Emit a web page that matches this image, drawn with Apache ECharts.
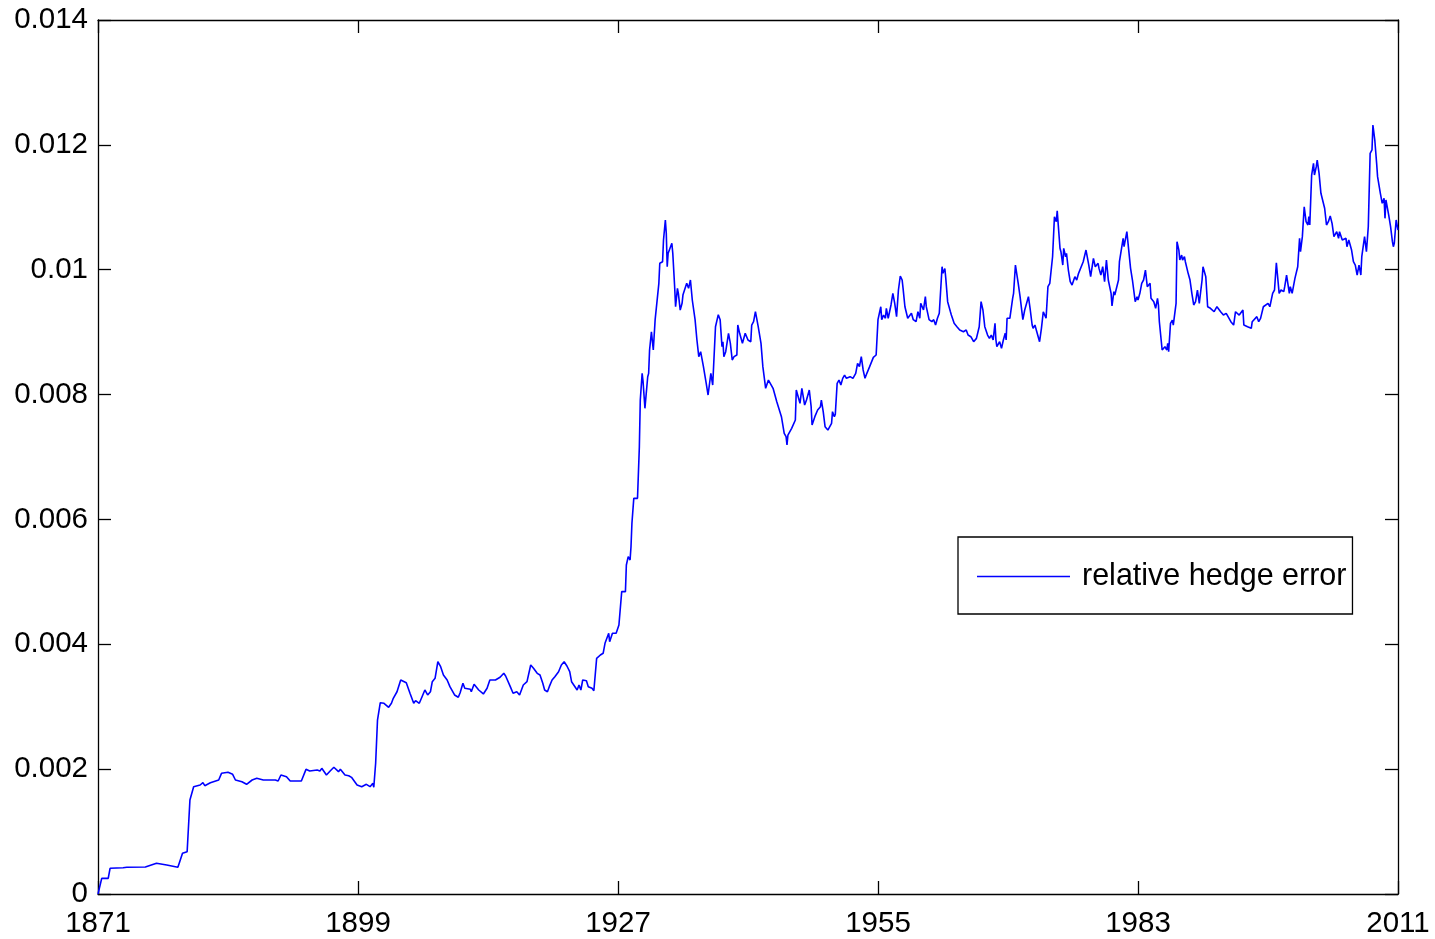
<!DOCTYPE html>
<html>
<head>
<meta charset="utf-8">
<title>relative hedge error</title>
<script src="https://cdn.jsdelivr.net/npm/echarts@6/dist/echarts.min.js"></script>
<style>
  html, body { margin: 0; padding: 0; background: #ffffff; }
  #chart { width: 1435px; height: 939px; }
</style>
</head>
<body>
<div id="chart"></div>
<script>
// Time axis (years) and the relative hedge error at each sample.
const years = [
  1871.0, 1871.4, 1872.1, 1872.3, 1873.7, 1873.8, 1874.1, 1876.1, 1877.3, 1878.4,
  1879.6, 1879.8, 1880.1, 1880.6, 1880.7, 1880.9, 1881.1, 1881.3, 1882.0, 1882.3,
  1882.5, 1883.1, 1884.0, 1884.3, 1885.0, 1885.5, 1885.8, 1886.5, 1887.0, 1887.6,
  1888.1, 1888.8, 1890.1, 1890.4, 1890.7, 1891.3, 1891.7, 1892.9, 1893.4, 1893.8,
  1894.6, 1894.9, 1895.1, 1895.6, 1896.0, 1896.4, 1896.9, 1897.1, 1897.6, 1898.0,
  1898.3, 1898.9, 1899.4, 1899.9, 1900.3, 1900.6, 1900.7, 1900.9, 1901.1, 1901.4,
  1901.8, 1902.3, 1902.6, 1902.8, 1903.0, 1903.2, 1903.6, 1904.2, 1904.6, 1905.0,
  1905.2, 1905.6, 1905.9, 1906.2, 1906.5, 1906.8, 1907.0, 1907.3, 1907.6, 1907.9,
  1908.2, 1908.6, 1908.9, 1909.4, 1909.8, 1910.0, 1910.3, 1910.5, 1911.1, 1911.2,
  1911.5, 1912.0, 1912.5, 1912.9, 1913.2, 1913.4, 1913.8, 1913.9, 1914.3, 1914.7,
  1914.9, 1915.4, 1915.7, 1916.1, 1916.4, 1916.8, 1917.2, 1917.6, 1917.9, 1918.3,
  1918.6, 1918.9, 1919.1, 1919.4, 1919.6, 1919.9, 1920.2, 1920.6, 1920.9, 1921.2,
  1921.5, 1921.8, 1922.0, 1922.6, 1922.8, 1923.0, 1923.2, 1923.6, 1923.8, 1924.2,
  1924.4, 1924.7, 1925.1, 1925.4, 1925.6, 1926.0, 1926.1, 1926.4, 1926.8, 1927.1,
  1927.4, 1927.8, 1927.9, 1928.1, 1928.3, 1928.4, 1928.5, 1928.7, 1929.1, 1929.3,
  1929.4, 1929.6, 1929.7, 1929.9, 1930.2, 1930.3, 1930.4, 1930.6, 1930.8, 1931.0,
  1931.2, 1931.4, 1931.5, 1931.8, 1931.9, 1932.1, 1932.2, 1932.3, 1932.4, 1932.6,
  1932.8, 1932.9, 1933.1, 1933.2, 1933.4, 1933.5, 1933.7, 1933.9, 1934.0, 1934.4,
  1934.6, 1934.8, 1935.0, 1935.3, 1935.5, 1935.7, 1935.9, 1936.2, 1936.5, 1936.7,
  1937.0, 1937.2, 1937.5, 1937.6, 1937.8, 1938.0, 1938.2, 1938.3, 1938.4, 1938.6,
  1938.8, 1938.9, 1939.1, 1939.2, 1939.3, 1939.5, 1939.8, 1939.9, 1940.1, 1940.4,
  1940.7, 1940.9, 1941.0, 1941.3, 1941.4, 1941.6, 1941.8, 1942.1, 1942.4, 1942.6,
  1942.9, 1943.2, 1943.3, 1943.7, 1943.8, 1944.1, 1944.3, 1944.6, 1944.9, 1945.1,
  1945.2, 1945.3, 1945.7, 1945.9, 1946.1, 1946.2, 1946.4, 1946.6, 1946.8, 1947.1,
  1947.3, 1947.6, 1947.8, 1947.9, 1948.2, 1948.5, 1948.8, 1948.9, 1949.1, 1949.3,
  1949.6, 1949.8, 1950.0, 1950.1, 1950.3, 1950.4, 1950.6, 1950.8, 1951.0, 1951.2,
  1951.4, 1951.6, 1952.0, 1952.3, 1952.6, 1952.8, 1953.0, 1953.2, 1953.4, 1953.6,
  1953.8, 1954.1, 1954.3, 1954.5, 1954.8, 1955.0, 1955.1, 1955.3, 1955.4, 1955.6,
  1955.8, 1955.9, 1956.1, 1956.4, 1956.5, 1956.6, 1956.8, 1957.0, 1957.2, 1957.4,
  1957.6, 1957.7, 1957.9, 1958.2, 1958.4, 1958.6, 1958.8, 1959.0, 1959.1, 1959.3,
  1959.5, 1959.6, 1959.8, 1959.9, 1960.1, 1960.2, 1960.5, 1960.8, 1961.0, 1961.2,
  1961.4, 1961.6, 1961.9, 1962.0, 1962.2, 1962.3, 1962.5, 1962.8, 1962.9, 1963.2,
  1963.5, 1963.8, 1964.2, 1964.5, 1964.7, 1965.0, 1965.3, 1965.4, 1965.6, 1965.9,
  1966.1, 1966.3, 1966.5, 1966.8, 1967.0, 1967.2, 1967.4, 1967.6, 1967.7, 1967.8,
  1968.1, 1968.3, 1968.5, 1968.7, 1968.8, 1968.9, 1969.2, 1969.5, 1969.6, 1969.8,
  1969.9, 1970.1, 1970.3, 1970.6, 1970.8, 1971.0, 1971.2, 1971.4, 1971.6, 1971.7,
  1971.9, 1972.1, 1972.4, 1972.6, 1972.8, 1973.0, 1973.1, 1973.3, 1973.5, 1973.8,
  1974.0, 1974.2, 1974.3, 1974.4, 1974.6, 1974.7, 1974.9, 1975.0, 1975.2, 1975.3,
  1975.5, 1975.7, 1975.9, 1976.2, 1976.4, 1976.6, 1976.7, 1977.1, 1977.4, 1977.7,
  1977.9, 1978.2, 1978.4, 1978.7, 1978.8, 1979.0, 1979.2, 1979.4, 1979.6, 1979.8,
  1980.1, 1980.2, 1980.4, 1980.5, 1980.9, 1981.0, 1981.1, 1981.4, 1981.5, 1981.8,
  1981.9, 1982.2, 1982.4, 1982.7, 1982.9, 1983.0, 1983.2, 1983.4, 1983.6, 1983.8,
  1984.0, 1984.3, 1984.4, 1984.7, 1984.9, 1985.1, 1985.2, 1985.3, 1985.6, 1985.9,
  1986.1, 1986.2, 1986.3, 1986.5, 1986.7, 1986.8, 1987.1, 1987.2, 1987.4, 1987.5,
  1987.7, 1987.8, 1988.0, 1988.1, 1988.4, 1988.6, 1988.8, 1989.0, 1989.2, 1989.4,
  1989.6, 1989.9, 1990.0, 1990.3, 1990.5, 1990.8, 1991.0, 1991.2, 1991.5, 1991.9,
  1992.2, 1992.5, 1992.7, 1993.0, 1993.3, 1993.5, 1993.9, 1994.3, 1994.4, 1994.8,
  1995.2, 1995.3, 1995.5, 1995.8, 1996.0, 1996.2, 1996.5, 1997.0, 1997.2, 1997.5,
  1997.7, 1997.9, 1998.2, 1998.4, 1998.7, 1998.8, 1999.0, 1999.3, 1999.4, 1999.6,
  1999.7, 1999.9, 2000.2, 2000.4, 2000.5, 2000.7, 2000.9, 2001.1, 2001.3, 2001.4,
  2001.5, 2001.7, 2001.9, 2002.0, 2002.2, 2002.3, 2002.5, 2002.7, 2002.9, 2003.1,
  2003.3, 2003.5, 2003.7, 2003.9, 2004.1, 2004.4, 2004.6, 2004.7, 2005.0, 2005.4,
  2005.5, 2005.7, 2006.0, 2006.2, 2006.4, 2006.6, 2006.8, 2007.0, 2007.1, 2007.4,
  2007.6, 2007.8, 2008.0, 2008.2, 2008.3, 2008.5, 2008.7, 2008.8, 2009.1, 2009.3,
  2009.5, 2009.6, 2009.7, 2010.0, 2010.2, 2010.4, 2010.5, 2010.6, 2010.8, 2011.0
];

const relHedgeError = [
  0.000000, 0.000251, 0.000251, 0.000412, 0.000421, 0.000453, 0.000428, 0.000432, 0.000492, 0.000465,
  0.000428, 0.000517, 0.000652, 0.000678, 0.000670, 0.001506, 0.001517, 0.001719, 0.001746, 0.001783,
  0.001735, 0.001783, 0.001826, 0.001933, 0.001949, 0.001917, 0.001826, 0.001799, 0.001757, 0.001826,
  0.001853, 0.001826, 0.001826, 0.001810, 0.001906, 0.001879, 0.001810, 0.001810, 0.001997, 0.001970,
  0.001986, 0.001970, 0.002013, 0.001906, 0.001970, 0.002030, 0.001959, 0.001997, 0.001906, 0.001895,
  0.001869, 0.001746, 0.001719, 0.001757, 0.001719, 0.001773, 0.001709, 0.002094, 0.002787, 0.003064,
  0.003055, 0.002991, 0.003055, 0.003135, 0.003119, 0.003240, 0.003428, 0.003385, 0.003215, 0.003055,
  0.003097, 0.003055, 0.003160, 0.003268, 0.003188, 0.003240, 0.003401, 0.003455, 0.003721, 0.003641,
  0.003508, 0.003428, 0.003321, 0.003188, 0.003151, 0.003224, 0.003375, 0.003295, 0.003279, 0.003240,
  0.003359, 0.003268, 0.003204, 0.003295, 0.003428, 0.003401, 0.003428, 0.003401, 0.003471, 0.003535,
  0.003492, 0.003321, 0.003215, 0.003240, 0.003188, 0.003348, 0.003401, 0.003668, 0.003615, 0.003535,
  0.003508, 0.003375, 0.003268, 0.003240, 0.003321, 0.003428, 0.003481, 0.003561, 0.003668, 0.003721,
  0.003652, 0.003561, 0.003401, 0.003268, 0.003348, 0.003268, 0.003428, 0.003417, 0.003321, 0.003295,
  0.003256, 0.003775, 0.003828, 0.003856, 0.004016, 0.004176, 0.004042, 0.004176, 0.004176, 0.004309,
  0.004843, 0.004843, 0.005270, 0.005403, 0.005350, 0.005563, 0.005938, 0.006338, 0.006338, 0.007165,
  0.007913, 0.008340, 0.008206, 0.007780, 0.008286, 0.008340, 0.008714, 0.009007, 0.008714, 0.009200,
  0.009222, 0.009782, 0.010103, 0.010128, 0.010476, 0.010796, 0.010583, 0.010048, 0.010263, 0.010288,
  0.010423, 0.010263, 0.009728, 0.009407, 0.009702, 0.009622, 0.009354, 0.009462, 0.009600, 0.009782,
  0.009702, 0.009835, 0.009515, 0.009200, 0.008874, 0.008607, 0.008687, 0.008447, 0.008180, 0.007993,
  0.008340, 0.008153, 0.009087, 0.009087, 0.009280, 0.009200, 0.008767, 0.008847, 0.008607, 0.008687,
  0.008714, 0.008981, 0.008821, 0.008821, 0.008554, 0.008607, 0.008634, 0.009114, 0.008981, 0.008821,
  0.008981, 0.009007, 0.008874, 0.008847, 0.009114, 0.009167, 0.009327, 0.009087, 0.008821, 0.008447,
  0.008100, 0.008233, 0.008260, 0.008100, 0.008073, 0.007886, 0.007860, 0.007646, 0.007380, 0.007325,
  0.007192, 0.007352, 0.007459, 0.007432, 0.007592, 0.008073, 0.008100, 0.007860, 0.008100, 0.007833,
  0.007913, 0.008073, 0.007806, 0.007512, 0.007646, 0.007753, 0.007806, 0.007913, 0.007726, 0.007486,
  0.007432, 0.007459, 0.007540, 0.007726, 0.007646, 0.007680, 0.008180, 0.008233, 0.008153, 0.008260,
  0.008313, 0.008260, 0.008287, 0.008260, 0.008340, 0.008500, 0.008447, 0.008607, 0.008394, 0.008260,
  0.008340, 0.008447, 0.008474, 0.008596, 0.008634, 0.009200, 0.009222, 0.009407, 0.009200, 0.009274,
  0.009222, 0.009382, 0.009222, 0.009435, 0.009408, 0.009622, 0.009462, 0.009248, 0.009675, 0.009899,
  0.009835, 0.009702, 0.009407, 0.009222, 0.009222, 0.009302, 0.009200, 0.009222, 0.009167, 0.009327,
  0.009222, 0.009462, 0.009435, 0.009355, 0.009568, 0.009408, 0.009200, 0.009167, 0.009200, 0.009114,
  0.009222, 0.009302, 0.010048, 0.009942, 0.010020, 0.009862, 0.009488, 0.009327, 0.009274, 0.009141,
  0.009087, 0.009034, 0.009007, 0.009034, 0.008954, 0.008927, 0.008847, 0.008820, 0.008900, 0.009087,
  0.009488, 0.009355, 0.009087, 0.008954, 0.008900, 0.008954, 0.008874, 0.009141, 0.008874, 0.008767,
  0.008847, 0.008741, 0.008874, 0.008981, 0.008874, 0.009222, 0.009222, 0.009542, 0.009622, 0.010075,
  0.010048, 0.009782, 0.009568, 0.009200, 0.009355, 0.009382, 0.009568, 0.009355, 0.009114, 0.009061,
  0.009114, 0.009007, 0.008847, 0.009061, 0.009327, 0.009355, 0.009222, 0.009728, 0.009782, 0.010208,
  0.010849, 0.010769, 0.010945, 0.010743, 0.010343, 0.010289, 0.010075, 0.010343, 0.010208, 0.010262,
  0.009995, 0.009808, 0.009755, 0.009888, 0.009835, 0.009942, 0.009942, 0.010128, 0.010315, 0.010075,
  0.009888, 0.010182, 0.010048, 0.010102, 0.010021, 0.009915, 0.010048, 0.009808, 0.010155, 0.009835,
  0.009622, 0.009419, 0.009648, 0.009595, 0.009835, 0.010128, 0.010128, 0.010503, 0.010369, 0.010609,
  0.010582, 0.010022, 0.009835, 0.009488, 0.009568, 0.009515, 0.009622, 0.009782, 0.009835, 0.009995,
  0.009728, 0.009782, 0.009542, 0.009488, 0.009382, 0.009542, 0.009435, 0.009167, 0.008714, 0.008767,
  0.008714, 0.008820, 0.008687, 0.009141, 0.009194, 0.009114, 0.009462, 0.010449, 0.010315, 0.010155,
  0.010235, 0.010155, 0.010208, 0.010128, 0.009942, 0.009835, 0.009622, 0.009435, 0.009488, 0.009675,
  0.009462, 0.009835, 0.010048, 0.009888, 0.009407, 0.009382, 0.009407, 0.009327, 0.009407, 0.009327,
  0.009274, 0.009300, 0.009248, 0.009167, 0.009114, 0.009327, 0.009274, 0.009355, 0.009114, 0.009087,
  0.009061, 0.009167, 0.009194, 0.009248, 0.009167, 0.009220, 0.009407, 0.009462, 0.009407, 0.009622,
  0.009675, 0.010112, 0.009622, 0.009675, 0.009648, 0.009728, 0.009915, 0.009622, 0.009728, 0.009622,
  0.009595, 0.009862, 0.010048, 0.010503, 0.010289, 0.010530, 0.011009, 0.010769, 0.010716, 0.010850,
  0.010716, 0.011517, 0.011704, 0.011517, 0.011651, 0.011757, 0.011544, 0.011224, 0.011197, 0.010984,
  0.010716, 0.010769, 0.010860, 0.010743, 0.010529, 0.010609, 0.010503, 0.010609, 0.010476, 0.010503,
  0.010369, 0.010476, 0.010315, 0.010128, 0.010075, 0.009915, 0.010075, 0.009915, 0.010208, 0.010529,
  0.010289, 0.010689, 0.011865, 0.011918, 0.012318, 0.012078, 0.011704, 0.011491, 0.011224, 0.011064,
  0.011144, 0.010823, 0.011117, 0.010876, 0.010689, 0.010449, 0.010369, 0.010422, 0.010796, 0.010636
];

const xTickYears = [1871, 1899, 1927, 1955, 1983, 2011];
const yTickValues = [0, 0.002, 0.004, 0.006, 0.008, 0.01, 0.012, 0.014];
const seriesName = 'relative hedge error';

const FONT = "'Liberation Sans', Arial, Helvetica, sans-serif";
const AXIS_COLOR = '#000000';
const LABEL_SIZE = 29.5;
const LEGEND_SIZE = 30.5;
const LINE_BLUE = '#0000ff';

const linePoints = years.map((y, i) => [y, relHedgeError[i]]);

function fmtY(v) {
  if (Math.abs(v) < 1e-12) return '0';
  return String(+v.toFixed(3));
}

const chart = echarts.init(document.getElementById('chart'), null, { renderer: 'canvas' });

const frameLine = { show: true, onZero: false, lineStyle: { color: AXIS_COLOR, width: 1.3 } };
const tickStyle = { color: AXIS_COLOR, width: 1.3 };

const option = {
  backgroundColor: '#ffffff',
  animation: false,
  grid: {
    left: 98, right: 37, top: 20, bottom: 45,
    containLabel: false,
    outerBoundsMode: 'none'
  },
  legend: {
    show: true,
    data: [{ name: seriesName, icon: 'rect' }],
    left: 958,
    top: 537,
    orient: 'horizontal',
    backgroundColor: '#ffffff',
    borderColor: '#000000',
    borderWidth: 1.3,
    borderRadius: 0,
    padding: [24, 6, 22, 19],
    itemWidth: 93,
    itemHeight: 1.5,
    selectedMode: false,
    itemStyle: { color: LINE_BLUE, borderWidth: 0 },
    textStyle: {
      fontFamily: FONT,
      fontSize: LEGEND_SIZE,
      color: '#000000',
      padding: [0, 0, 0, 7]
    }
  },
  xAxis: [
    {
      type: 'value',
      position: 'bottom',
      min: 1871,
      max: 2011,
      axisLine: frameLine,
      axisTick: { show: true, inside: true, length: 13, customValues: xTickYears, lineStyle: tickStyle },
      axisLabel: { show: true, customValues: xTickYears, margin: 15,
                   fontFamily: FONT, fontSize: LABEL_SIZE, color: '#000000',
                   formatter: v => String(v) },
      splitLine: { show: false }
    },
    {
      type: 'value',
      position: 'top',
      min: 1871,
      max: 2011,
      axisLine: frameLine,
      axisTick: { show: true, inside: true, length: 13, customValues: xTickYears, lineStyle: tickStyle },
      axisLabel: { show: false },
      splitLine: { show: false }
    }
  ],
  yAxis: [
    {
      type: 'value',
      position: 'left',
      min: 0,
      max: 0.014,
      interval: 0.002,
      axisLine: frameLine,
      axisTick: { show: true, inside: true, length: 13, customValues: yTickValues, lineStyle: tickStyle },
      axisLabel: { show: true, customValues: yTickValues, margin: 10,
                   fontFamily: FONT, fontSize: LABEL_SIZE, color: '#000000',
                   formatter: fmtY },
      splitLine: { show: false }
    },
    {
      type: 'value',
      position: 'right',
      min: 0,
      max: 0.014,
      interval: 0.002,
      axisLine: frameLine,
      axisTick: { show: true, inside: true, length: 13, customValues: yTickValues, lineStyle: tickStyle },
      axisLabel: { show: false },
      splitLine: { show: false }
    }
  ],
  series: [
    {
      name: seriesName,
      type: 'line',
      xAxisIndex: 0,
      yAxisIndex: 0,
      data: linePoints,
      symbol: 'none',
      showSymbol: false,
      smooth: false,
      lineStyle: { color: LINE_BLUE, width: 1.6 },
      itemStyle: { color: LINE_BLUE },
      emphasis: { disabled: true }
    }
  ]
};

chart.setOption(option);
</script>
</body>
</html>
